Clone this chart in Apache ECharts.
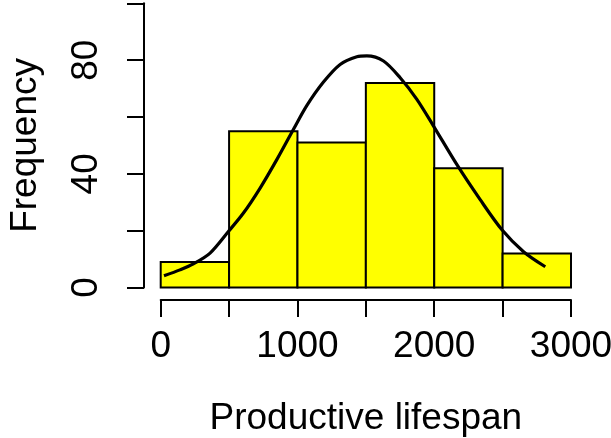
<!DOCTYPE html>
<html>
<head>
<meta charset="utf-8">
<script src="https://cdn.jsdelivr.net/npm/echarts@6/dist/echarts.min.js"></script>
<style>
html,body{margin:0;padding:0;background:#fff;}
#chart{width:611px;height:438px;}
</style>
</head>
<body>
<div id="chart"></div>
<script>
// Histogram bins
var binStart = [0, 500, 1000, 1500, 2000, 2500];
var binEnd   = [500, 1000, 1500, 2000, 2500, 3000];
var counts   = [9, 55, 51, 72, 42, 12];

// Overlay curve
var curveX = [24, 141, 239, 361, 495, 605, 727, 849, 970, 1068, 1190, 1312, 1434, 1507, 1629, 1751, 1873, 1995, 2166, 2336, 2495, 2653, 2812];
var curveY = [4.1, 6.2, 8.3, 12.1, 19.7, 26.2, 35.0, 45.0, 55.6, 64.0, 72.3, 78.5, 81.2, 81.5, 79.7, 73.8, 66.2, 56.8, 43.2, 30.9, 20.3, 12.6, 7.3];

// Tick labels
var xLabels = [0, 1000, 2000, 3000];
var yLabels = [0, 40, 80];

var FONT = 'Liberation Sans, Arial, sans-serif';

var histData = binStart.map(function (s, i) { return [s, binEnd[i], counts[i]]; });
var curveData = curveX.map(function (x, i) { return [x, curveY[i]]; });

var chart = echarts.init(document.getElementById('chart'), null, {renderer: 'canvas'});
chart.setOption({
  animation: false,
  backgroundColor: '#ffffff',
  grid: {left: 160.7, right: 40, top: 3.3, bottom: 150.5, containLabel: false, outerBoundsMode: 'none'},
  xAxis: {
    type: 'value', min: 0, max: 3000, interval: 500,
    offset: 12.5,
    name: 'Productive lifespan', nameLocation: 'middle', nameGap: 100,
    nameTextStyle: {fontFamily: FONT, fontSize: 37, color: '#000'},
    axisLine: {show: true, onZero: false, lineStyle: {color: '#000', width: 2}},
    axisTick: {show: true, length: 17, lineStyle: {color: '#000', width: 2}},
    axisLabel: {
      fontFamily: FONT, fontSize: 37, color: '#000', margin: 28,
      formatter: function (v) { return xLabels.indexOf(v) >= 0 ? String(v) : ''; }
    },
    splitLine: {show: false}
  },
  yAxis: {
    type: 'value', min: 0, max: 100, interval: 20,
    offset: 16.7,
    name: 'Frequency', nameLocation: 'middle', nameGap: 100, nameRotate: 90,
    nameTextStyle: {fontFamily: FONT, fontSize: 37, color: '#000'},
    axisLine: {show: true, onZero: false, lineStyle: {color: '#000', width: 2}},
    axisTick: {show: true, length: 17, lineStyle: {color: '#000', width: 2}},
    axisLabel: {
      fontFamily: FONT, fontSize: 37, color: '#000', margin: 39, rotate: 90,
      formatter: function (v) { return yLabels.indexOf(v) >= 0 ? String(v) : ''; }
    },
    splitLine: {show: false}
  },
  series: [
    {
      type: 'custom',
      data: histData,
      renderItem: function (params, api) {
        var p0 = api.coord([api.value(0), api.value(2)]);
        var p1 = api.coord([api.value(1), 0]);
        return {
          type: 'rect',
          shape: {x: p0[0], y: p0[1], width: p1[0] - p0[0], height: p1[1] - p0[1]},
          style: {fill: '#ffff00', stroke: '#000', lineWidth: 2}
        };
      },
      z: 1
    },
    {
      type: 'line',
      data: curveData,
      smooth: 0.3,
      showSymbol: false,
      symbol: 'none',
      lineStyle: {color: '#000', width: 3.2},
      z: 3
    }
  ]
});
</script>
</body>
</html>
